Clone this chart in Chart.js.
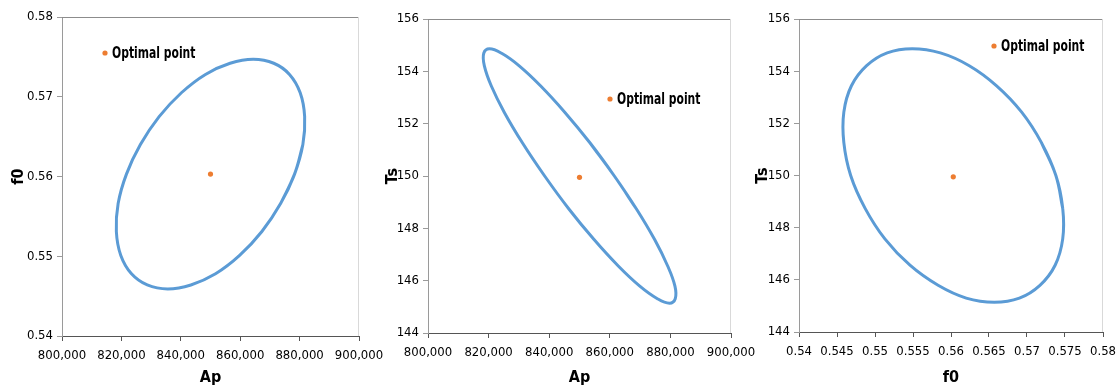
<!DOCTYPE html>
<html>
<head>
<meta charset="utf-8">
<script src="https://cdn.jsdelivr.net/npm/chart.js@4/dist/chart.umd.min.js"></script>
<style>
  html, body { margin: 0; padding: 0; background: #fff; }
  body { width: 1117px; height: 388px; position: relative; overflow: hidden; }
  canvas { position: absolute; top: 0; }
</style>
</head>
<body>
<canvas id="c1" width="400" height="388" style="left:0"></canvas>
<canvas id="c2" width="400" height="388" style="left:370px"></canvas>
<canvas id="c3" width="400" height="388" style="left:740px"></canvas>
<script>
// confidence ellipses, values
var apTicks = [800000, 820000, 840000, 860000, 880000, 900000];
var f0Ticks = [0.54, 0.545, 0.55, 0.555, 0.56, 0.565, 0.57, 0.575, 0.58];
var f0TicksLeft = [0.54, 0.55, 0.56, 0.57, 0.58];
var tsTicks = [144, 146, 148, 150, 152, 154, 156];

var ellipse1Ap = [878300, 881100, 881700, 880200, 876600, 871300, 864400, 856600, 848300, 840200, 832700, 826400, 821700, 818900, 818300, 819800, 823400, 828700, 835600, 843400, 851700, 859800, 867300, 873600, 878300];
var ellipse1F0 = [0.5603, 0.5640, 0.5675, 0.5705, 0.5728, 0.5742, 0.5747, 0.5742, 0.5728, 0.5705, 0.5675, 0.5640, 0.5603, 0.5566, 0.5531, 0.5501, 0.5478, 0.5464, 0.5459, 0.5464, 0.5478, 0.5501, 0.5531, 0.5566, 0.5603];

var ellipse2Ap = [861500, 853500, 845200, 837200, 830100, 824300, 820300, 818400, 818600, 820900, 825200, 831200, 838500, 846500, 854800, 862800, 869900, 875700, 879700, 881600, 881500, 879100, 874800, 868800, 861500];
var ellipse2Ts = [150, 151.26, 152.43, 153.44, 154.21, 154.69, 154.86, 154.69, 154.21, 153.44, 152.43, 151.26, 150, 148.74, 147.57, 146.56, 145.79, 145.31, 145.14, 145.31, 145.79, 146.56, 147.57, 148.74, 150];

var ellipse3F0 = [0.5738, 0.5719, 0.5693, 0.5660, 0.5624, 0.5586, 0.5549, 0.5516, 0.5489, 0.5469, 0.5459, 0.5459, 0.5468, 0.5487, 0.5513, 0.5546, 0.5583, 0.5620, 0.5657, 0.5690, 0.5717, 0.5737, 0.5747, 0.5747, 0.5738];
var ellipse3Ts = [150, 151.26, 152.43, 153.44, 154.21, 154.70, 154.86, 154.70, 154.21, 153.44, 152.43, 151.26, 150, 148.74, 147.57, 146.56, 145.79, 145.30, 145.14, 145.30, 145.79, 146.56, 147.57, 148.74, 150];

var optimalAp = 850000;
var optimalF0 = 0.5603;
var optimalTs = 149.95;
var legendLabel = 'Optimal point';

(function () {
  var FONT = '"DejaVu Sans Condensed", "Liberation Sans Narrow", sans-serif';
  Chart.defaults.font.family = FONT;
  Chart.defaults.color = '#000';

  // closed curve: the first and last entries are the same point, so wrap one
  // neighbour on each side to keep the spline smooth where the loop joins
  function loop(xs, ys) {
    var p = xs.map(function (x, i) { return { x: x, y: ys[i] }; });
    var n = p.length;
    return [p[n - 2]].concat(p, [p[1]]);
  }

  function fmtAp(v) {
    return Number(v).toLocaleString('en-US');
  }
  function fmtDec(v) {
    return String(Number(Number(v).toFixed(3)));
  }
  function fmtInt(v) {
    return String(Math.round(v));
  }

  // plot frame (top + right) like the spreadsheet box
  var framePlugin = {
    id: 'frame',
    beforeDatasetsDraw: function (chart) {
      var a = chart.chartArea;
      var ctx = chart.ctx;
      ctx.save();
      ctx.lineWidth = 1;
      ctx.strokeStyle = '#8c8c8c';
      ctx.beginPath();
      ctx.moveTo(a.left, a.top + 0.5);
      ctx.lineTo(a.right, a.top + 0.5);
      ctx.stroke();
      ctx.strokeStyle = '#d9d9d9';
      ctx.beginPath();
      ctx.moveTo(a.right - 0.5, a.top);
      ctx.lineTo(a.right - 0.5, a.bottom);
      ctx.stroke();
      ctx.restore();
    },
  };

  // legend entry sitting inside the plot area
  var innerLegend = {
    id: 'innerLegend',
    afterDraw: function (chart, args, opts) {
      var a = chart.chartArea;
      var ctx = chart.ctx;
      var x = a.left + opts.dx;
      var y = a.top + opts.dy;
      ctx.save();
      ctx.fillStyle = '#ED7D31';
      ctx.beginPath();
      ctx.arc(x, y, 2.6, 0, Math.PI * 2);
      ctx.fill();
      ctx.fillStyle = '#000';
      ctx.font = 'bold 15px ' + FONT;
      ctx.textBaseline = 'middle';
      ctx.textAlign = 'left';
      ctx.translate(x + 7, y + 1);
      ctx.scale(0.8, 1);
      ctx.fillText(legendLabel, 0, 0);
      ctx.restore();
    },
  };

  function makeChart(id, c) {
    var el = document.getElementById(id);
    return new Chart(el, {
      type: 'scatter',
      data: {
        datasets: [
          {
            label: 'ellipse',
            data: loop(c.ex, c.ey),
            showLine: true,
            borderColor: '#5B9BD5',
            borderWidth: 3,
            pointRadius: 0,
            tension: 0.4,
            fill: false,
          },
          {
            label: legendLabel,
            data: [{ x: c.px, y: c.py }],
            backgroundColor: '#ED7D31',
            borderColor: '#ED7D31',
            pointRadius: 2.6,
            borderWidth: 0,
          },
        ],
      },
      options: {
        responsive: false,
        animation: false,
        layout: {
          autoPadding: false,
          padding: { left: 0, top: c.top, right: c.right, bottom: 0 },
        },
        plugins: {
          legend: { display: false },
          tooltip: { enabled: false },
          innerLegend: { dx: c.legX, dy: c.legY },
        },
        scales: {
          x: {
            type: 'linear',
            min: c.xTicks[0],
            max: c.xTicks[c.xTicks.length - 1],
            afterBuildTicks: function (s) {
              s.ticks = c.xTicks.map(function (v) { return { value: v }; });
            },
            afterFit: function (s) { s.height = c.xH; },
            grid: { drawOnChartArea: false, drawTicks: true, tickLength: 5, color: '#555' },
            border: { color: '#555' },
            ticks: { callback: c.xFmt, font: { size: 13 }, padding: 7, maxRotation: 0, autoSkip: false },
            title: { display: true, text: c.xTitle, font: { size: 16, weight: 'bold' }, padding: { top: 0, bottom: c.xTitlePad } },
          },
          y: {
            type: 'linear',
            min: c.yTicks[0],
            max: c.yTicks[c.yTicks.length - 1],
            afterBuildTicks: function (s) {
              s.ticks = c.yTicks.map(function (v) { return { value: v }; });
            },
            afterFit: function (s) { s.width = c.yW; },
            grid: { drawOnChartArea: false, drawTicks: true, tickLength: 5, color: '#9a9a9a' },
            border: { color: '#9a9a9a' },
            ticks: { callback: c.yFmt, font: { size: 13 }, padding: 4, autoSkip: false },
            title: { display: true, text: c.yTitle, font: { size: 16, weight: 'bold' }, padding: { top: c.yTitlePad, bottom: 0 } },
          },
        },
      },
      plugins: [framePlugin, innerLegend],
    });
  }

  makeChart('c1', {
    ex: ellipse1Ap, ey: ellipse1F0, px: optimalAp, py: optimalF0,
    xTicks: apTicks, yTicks: f0TicksLeft,
    xFmt: fmtAp, yFmt: fmtDec, xTitle: 'Ap', yTitle: 'f0',
    top: 17, right: 41, yW: 62, xH: 52, yTitlePad: 9, xTitlePad: 1,
    legX: 43, legY: 36,
  });

  makeChart('c2', {
    ex: ellipse2Ap, ey: ellipse2Ts, px: optimalAp, py: optimalTs,
    xTicks: apTicks, yTicks: tsTicks,
    xFmt: fmtAp, yFmt: fmtInt, xTitle: 'Ap', yTitle: 'Ts',
    top: 19, right: 39, yW: 58, xH: 55, yTitlePad: 13, xTitlePad: 1,
    legX: 182, legY: 80,
  });

  makeChart('c3', {
    ex: ellipse3F0, ey: ellipse3Ts, px: optimalF0, py: optimalTs,
    xTicks: f0Ticks, yTicks: tsTicks,
    xFmt: fmtDec, yFmt: fmtInt, xTitle: 'f0', yTitle: 'Ts',
    top: 19, right: 37, yW: 59, xH: 56, yTitlePad: 13, xTitlePad: 1,
    legX: 195, legY: 27,
  });
})();
</script>
</body>
</html>
